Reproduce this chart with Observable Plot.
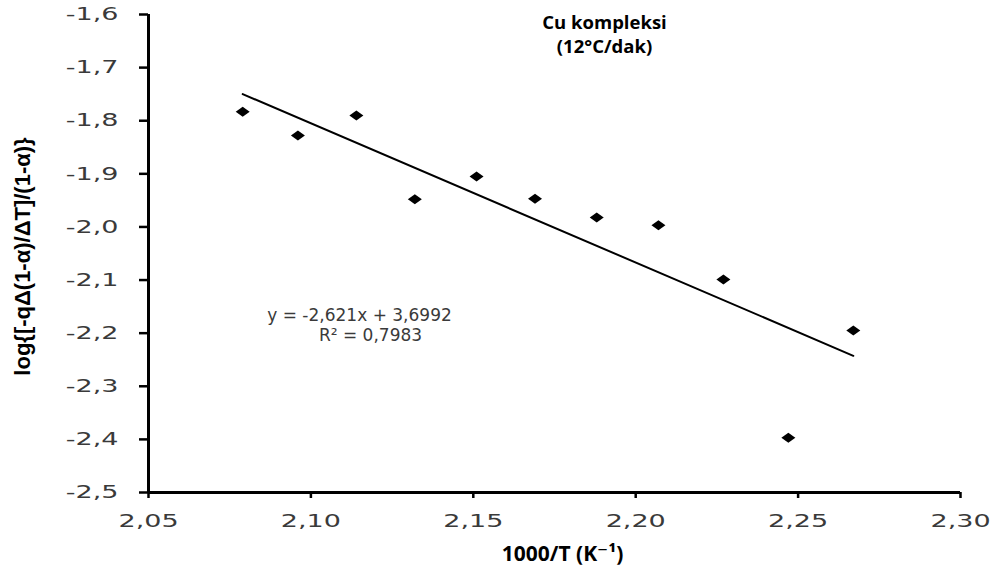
<!DOCTYPE html>
<html>
<head>
<meta charset="utf-8">
<script src="https://cdn.jsdelivr.net/npm/d3@7"></script>
<script src="https://cdn.jsdelivr.net/npm/@observablehq/plot@0.6"></script>
<style>
  html, body { margin: 0; padding: 0; background: #fff; }
  #chart svg { display: block; }
</style>
</head>
<body>
<div id="chart"></div>
<script>
// ---- Data ----
const invT = [2.079, 2.096, 2.114, 2.132, 2.151, 2.169, 2.188, 2.207, 2.227, 2.247, 2.267];
const logVal = [-1.783, -1.828, -1.790, -1.948, -1.905, -1.947, -1.982, -1.997, -2.099, -2.397, -2.195];

const slope = -2.621;
const intercept = 3.6992;
const rSquared = "0,7983";

const xTicks = [2.05, 2.10, 2.15, 2.20, 2.25, 2.30];
const yTicks = [-2.5, -2.4, -2.3, -2.2, -2.1, -2.0, -1.9, -1.8, -1.7, -1.6];

const titleText = "Cu kompleksi\n(12°C/dak)";
const xLabel = "1000/T (K⁻¹)";
const yLabel = "log{[-qΔ(1-α)/ΔT]/(1-α)}";
const eqLine1 = "y = -2,621x + 3,6992";
const eqLine2 = "R² = " + rSquared;

// ---- Build ----
const points = invT.map((x, i) => ({x, y: logVal[i]}));
const xExt = d3.extent(invT);
const trend = xExt.map(x => ({x, y: slope * x + intercept}));

const fmt2 = d => d3.format(".2f")(d).replace("−", "-").replace(".", ",");
const fmt1 = d => d3.format(".1f")(d).replace("−", "-").replace(".", ",");

const diamond = {
  draw(ctx, size) {
    const w = 7, h = 5;
    ctx.moveTo(-w, 0);
    ctx.lineTo(0, -h);
    ctx.lineTo(w, 0);
    ctx.lineTo(0, h);
    ctx.closePath();
  }
};

const tickFont = "'DejaVu Sans', Verdana, sans-serif";
const boldFont = "'Open Sans', 'DejaVu Sans', sans-serif";

const chart = Plot.plot({
  width: 996,
  height: 572,
  marginLeft: 148,
  marginRight: 36,
  marginTop: 14,
  marginBottom: 80,
  style: {background: "#fff", fontFamily: tickFont},
  x: {domain: [2.05, 2.30]},
  y: {domain: [-2.5, -1.6]},
  marks: [
    Plot.axisX({ticks: xTicks, tickFormat: fmt2, tickSize: 6, tickPadding: 16,
      fontSize: 18, fill: "#3a3a3a", stroke: "#000", strokeWidth: 2.5, label: null}),
    Plot.axisY({ticks: yTicks, tickFormat: fmt1, tickSize: 9, tickPadding: 21,
      fontSize: 18, fill: "#3a3a3a", stroke: "#000", strokeWidth: 2.5, label: null}),
    Plot.ruleY([-2.5], {stroke: "#000", strokeWidth: 3}),
    Plot.ruleX([2.05], {stroke: "#000", strokeWidth: 3}),
    Plot.line(trend, {x: "x", y: "y", stroke: "#000", strokeWidth: 2}),
    Plot.dot(points, {x: "x", y: "y", symbol: diamond, fill: "#000", stroke: "none", r: 5}),
    Plot.text([titleText], {ariaLabel: "title", frameAnchor: "top", textAnchor: "middle", dx: 50, dy: 38,
      lineAnchor: "bottom", lineHeight: 1.25,
      fontSize: 18.5, fontWeight: "bold", fontFamily: boldFont, fill: "#000"}),
    Plot.text([eqLine1], {frameAnchor: "top-left", textAnchor: "middle", dx: 211, dy: 306, lineAnchor: "bottom",
      fontSize: 17, fontFamily: tickFont, fill: "#3a3a3a"}),
    Plot.text([eqLine2], {frameAnchor: "top-left", textAnchor: "middle", dx: 222, dy: 326, lineAnchor: "bottom",
      fontSize: 17, fontFamily: tickFont, fill: "#3a3a3a"}),
    Plot.text([xLabel], {ariaLabel: "xlabel", frameAnchor: "bottom", textAnchor: "middle", dx: 8, dy: 68,
      lineAnchor: "bottom",
      fontSize: 21, fontWeight: "bold", fontFamily: boldFont, fill: "#000"}),
    Plot.text([yLabel], {ariaLabel: "ylabel", frameAnchor: "left", textAnchor: "middle", dx: -119, dy: 3,
      rotate: -90, lineAnchor: "bottom",
      fontSize: 22, fontWeight: "bold", fontFamily: "'Liberation Sans', Arial, sans-serif", fill: "#000"})
  ]
});

document.getElementById("chart").appendChild(chart);

// horizontal stretch of the texts (the reference glyphs are wide)
function scaleText(label, k) {
  chart.querySelectorAll(`g[aria-label="${label}"] text`).forEach(el => {
    el.setAttribute("transform", (el.getAttribute("transform") || "") + ` scale(${k},1)`);
  });
}
function fitText(label, target) {
  chart.querySelectorAll(`g[aria-label="${label}"] text`).forEach(el => {
    const spans = el.querySelectorAll("tspan");
    const w = spans.length
      ? d3.max(Array.from(spans), s => s.getComputedTextLength())
      : el.getComputedTextLength();
    if (w > 0) el.setAttribute("transform", (el.getAttribute("transform") || "") + ` scale(${target / w},1)`);
  });
}
scaleText("x-axis tick label", 1.5);
scaleText("y-axis tick label", 1.5);
fitText("title", 188);
fitText("xlabel", 160);
fitText("ylabel", 253);
</script>
</body>
</html>
